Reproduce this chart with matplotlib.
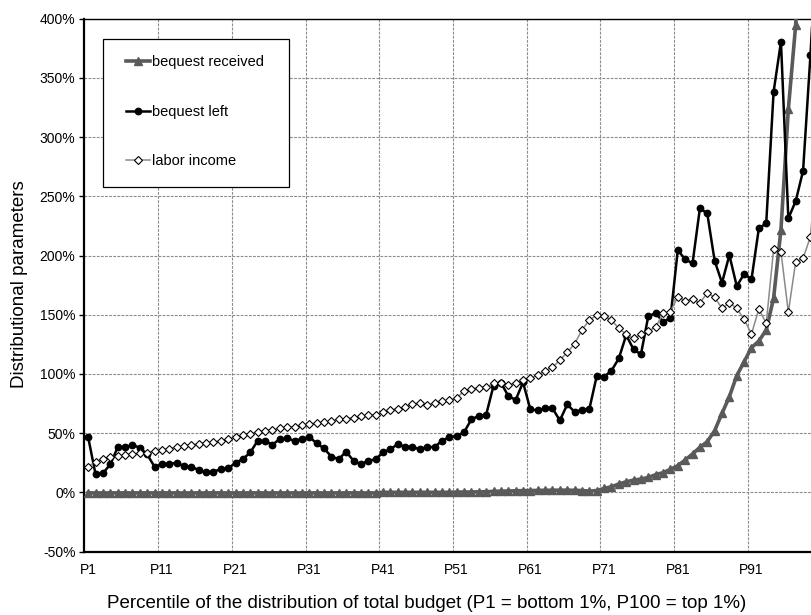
import numpy as np
import matplotlib
matplotlib.use("Agg")
import matplotlib.pyplot as plt
from matplotlib.patches import Rectangle
from matplotlib.ticker import FixedLocator, FuncFormatter

plt.rcParams['font.family'] = ['Liberation Sans', 'DejaVu Sans']

# DATA (percent, P1..P100)
percentiles = np.arange(1, 101)

bequest_received = [
    -0.5, -0.5, -0.5, -0.5, -0.5, -0.5, -0.5, -0.5, -0.5, -0.5,
    -0.5, -0.5, -0.5, -0.5, -0.5, -0.5, -0.5, -0.5, -0.5, -0.5,
    -0.5, -0.5, -0.5, -0.5, -0.5, -0.5, -0.5, -0.5, -0.5, -0.5,
    -0.5, -0.5, -0.5, -0.5, -0.5, -0.5, -0.5, -0.5, -0.5, -0.5,
    0.0, 0.0, 0.0, 0.0, 0.0, 0.0, 0.0, 0.0, 0.0, 0.0,
    0.2, 0.2, 0.3, 0.4, 0.5, 0.8, 1.0, 1.1, 1.3, 1.4,
    1.5, 1.6, 1.7, 1.8, 1.8, 1.8, 1.7, 1.5, 1.0, 1.5,
    3.3, 4.7, 7.0, 8.9, 10.3, 11.2, 12.6, 14.9, 16.6, 19.4,
    22.5, 27.3, 32.4, 38.0, 42.8, 52.1, 66.7, 80.8, 98.5, 110.3,
    122.2, 127.8, 137.1, 163.9, 222.0, 323.5, 395.0, 520.0, 650.0, 800.0,
]

bequest_left = [
    46.4, 15.2, 16.1, 23.6, 38.0, 38.0, 40.0, 37.7, 32.1, 21.6,
    23.6, 24.2, 24.7, 22.2, 21.6, 18.8, 16.8, 17.4, 19.6, 20.2,
    25.0, 28.1, 33.7, 43.6, 43.3, 40.2, 45.0, 45.5, 43.6, 45.0,
    47.0, 41.3, 37.1, 30.1, 28.1, 34.3, 26.7, 23.6, 26.7, 27.8,
    33.8, 36.3, 40.8, 38.3, 38.3, 36.3, 38.6, 38.0, 43.7, 46.4,
    47.6, 50.7, 61.7, 64.5, 65.6, 90.1, 92.6, 81.4, 78.0, 92.9,
    70.0, 69.2, 70.9, 70.9, 60.7, 74.2, 68.0, 69.5, 70.3, 98.2,
    97.6, 102.7, 113.1, 132.8, 120.7, 116.5, 148.9, 151.2, 144.1, 147.0,
    204.6, 196.8, 193.4, 239.9, 235.6, 195.6, 177.0, 200.4, 174.2, 184.4,
    179.9, 223.0, 227.2, 338.3, 380.6, 231.4, 246.0, 271.6, 369.3, 480.0,
]

labor_income = [
    21.6, 26.0, 28.0, 30.0, 30.5, 31.5, 32.5, 33.0, 33.5, 35.0,
    35.7, 37.0, 38.0, 39.0, 40.0, 41.0, 41.8, 42.5, 43.5, 45.0,
    47.0, 48.0, 49.5, 51.0, 52.0, 53.0, 54.0, 55.0, 55.5, 56.5,
    57.7, 58.5, 59.2, 60.2, 61.6, 62.2, 63.0, 64.1, 65.0, 65.5,
    68.0, 69.5, 70.6, 71.8, 74.8, 75.1, 73.4, 75.7, 76.8, 77.9,
    79.3, 85.8, 87.2, 88.4, 88.9, 92.0, 92.6, 90.6, 92.6, 94.8,
    96.2, 99.0, 102.7, 105.5, 111.7, 118.2, 125.4, 137.1, 145.5, 149.7,
    148.9, 145.5, 138.5, 133.4, 130.0, 133.4, 136.5, 139.4, 151.2, 152.6,
    165.2, 161.8, 163.0, 159.6, 168.6, 164.7, 155.4, 160.1, 155.4, 146.1,
    133.7, 154.9, 142.7, 205.2, 203.2, 152.1, 194.8, 197.6, 215.9, 290.0,
]

tick_pos = [1, 11, 21, 31, 41, 51, 61, 71, 81, 91]
tick_labels = ['P%d' % p for p in tick_pos]

# FIGURE
fig = plt.figure(figsize=(8.12, 6.15), dpi=100)
W, H = 812.0, 615.0
ax_left, ax_top, ax_bot = 84.5, 18.8, 551.5
ax = fig.add_axes([ax_left / W, 1 - ax_bot / H, (W - ax_left) / W, (ax_bot - ax_top) / H])

def to_axes(px, py):
    # pixel position in the picture -> axes fraction
    return (px - ax_left) / (W - ax_left), (ax_bot - py) / (ax_bot - ax_top)

ax.plot(percentiles, bequest_received, color='#5a5a5a', lw=2.6,
        marker='^', ms=5.5, mfc='#5a5a5a', mec='#5a5a5a', label='bequest received', zorder=3)
ax.plot(percentiles, bequest_left, color='black', lw=1.8,
        marker='o', ms=4.6, mfc='black', mec='black', label='bequest left', zorder=4)
ax.plot(percentiles, labor_income, color='#8a8a8a', lw=1.1,
        marker='D', ms=4.2, mfc='white', mec='black', mew=0.8, label='labor income', zorder=5)

ax.set_xlim(0.5, 0.5 + (W - ax_left) / 7.37)
ax.set_ylim(-50, 400)

ax.set_yticks(np.arange(-50, 401, 50))
ax.yaxis.set_major_formatter(FuncFormatter(lambda v, _: '%d%%' % v))
ax.set_xticks(tick_pos)
ax.set_xticklabels(tick_labels)
ax.xaxis.set_minor_locator(FixedLocator(np.arange(10.5, 100, 10)))

ax.tick_params(axis='x', which='both', length=0, pad=8, labelsize=10, colors='black')
ax.tick_params(axis='y', length=3.5, width=1, pad=3, labelsize=10)

ax.grid(False)
ax.yaxis.grid(True, which='major', color='#8c8c8c', lw=0.8, ls=(0, (2.5, 1.2)))
ax.xaxis.grid(True, which='minor', color='#8c8c8c', lw=0.8, ls=(0, (2.5, 1.2)))
ax.set_axisbelow(True)

for side in ['left', 'bottom']:
    ax.spines[side].set_linewidth(1.6)
ax.spines['top'].set_linewidth(1.0)
ax.spines['right'].set_visible(False)

fig.text(19.3 / W, 1 - 284 / H, 'Distributional parameters', rotation=90,
         ha='center', va='center', fontsize=13.5)
fig.text(427 / W, 1 - 608.5 / H,
         'Percentile of the distribution of total budget (P1 = bottom 1%, P100 = top 1%)',
         ha='center', va='baseline', fontsize=13.5)

# legend box drawn separately so its size matches the original
bx0, by0 = to_axes(103.3, 187.3)
bx1, by1 = to_axes(288.7, 39.0)
ax.add_patch(Rectangle((bx0, by0), bx1 - bx0, by1 - by0, transform=ax.transAxes,
                       facecolor='white', edgecolor='black', lw=0.9, zorder=6))
lx, ly = to_axes(125.7, 55.0)
leg = ax.legend(loc='upper left', bbox_to_anchor=(lx, ly), frameon=False,
                fontsize=10.5, borderpad=0, borderaxespad=0,
                labelspacing=2.45, handlelength=1.65, handletextpad=0.15)
leg.set_zorder(7)

fig.savefig('out.png', dpi=100)
